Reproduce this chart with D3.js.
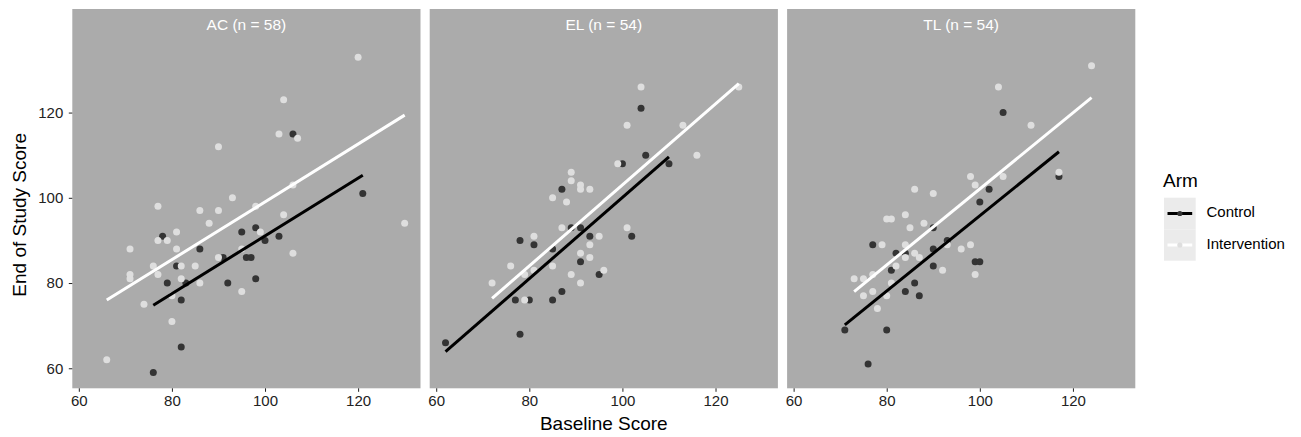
<!DOCTYPE html>
<html lang="en">
<head>
<meta charset="utf-8" />
<title>Baseline vs End of Study Score</title>
<script src="https://cdnjs.cloudflare.com/ajax/libs/d3/7.8.5/d3.min.js"></script>
<style>
  body { margin: 0; background: #fff; }
  svg text { font-family: "Liberation Sans", Arial, Helvetica, sans-serif; }
</style>
</head>
<body>
<svg id="chart" width="1301" height="437"></svg>
<script>
// facet labels and legend entries
const panels = ["AC (n = 58)", "EL (n = 54)", "TL (n = 54)"];
const arms = ["Control", "Intervention"];
const xTicks = [60, 80, 100, 120];
const yTicks = [60, 80, 100, 120];

// points: [baseline, end of study]
const acControl = [[106,115],[121,101],[78,91],[86,88],[81,84],[79,80],[83,80],[82,76],[82,65],[76,59],
  [92,80],[91,86],[95,92],[96,86],[97,86],[98,93],[98,81],[100,90],[103,91]];
const acIntervention = [[93,100],[77,98],[86,97],[90,97],[98,98],[104,96],[88,94],[77,90],[79,90],[81,92],
  [71,88],[81,88],[90,86],[76,84],[82,84],[85,84],[71,82],[71,81],[77,82],[82,81],[86,80],[74,75],[80,71],
  [95,78],[99,92],[106,87],[130,94],[66,62],[80,77],[95,88],[106,103],[120,133],[104,123],[103,115],
  [107,114],[90,112]];

const elControl = [[104,121],[105,110],[100,108],[110,108],[87,102],[89,93],[91,93],[102,91],[93,91],
  [78,90],[81,89],[85,88],[91,85],[95,82],[87,78],[77,76],[80,76],[85,76],[78,68],[62,66]];
const elIntervention = [[104,126],[101,117],[113,117],[125,126],[116,110],[99,108],[89,106],[89,104],
  [91,103],[91,102],[93,102],[85,100],[88,99],[87,93],[101,93],[81,91],[95,91],[93,89],[91,87],[93,86],
  [76,84],[85,84],[96,83],[81,83],[79,82],[89,82],[91,80],[72,80],[79,76]];

const tlControl = [[105,120],[117,105],[102,102],[100,99],[90,93],[77,89],[93,90],[90,88],[82,87],[84,87],
  [99,85],[100,85],[90,84],[81,83],[86,80],[84,78],[87,77],[71,69],[80,69],[76,61]];
const tlIntervention = [[124,131],[104,126],[111,117],[117,106],[98,105],[105,105],[99,103],[86,102],
  [90,101],[84,96],[80,95],[81,95],[85,93],[88,94],[79,89],[84,89],[93,89],[96,88],[98,89],[86,87],
  [84,86],[87,86],[82,84],[92,83],[99,82],[73,81],[75,81],[77,82],[81,80],[77,78],[75,77],[80,77],[78,74]];

// fitted lines: [x0, y0, x1, y1]
const acFits = [[76,74.8,121,105.3],[66,76.0,130,119.4]];
const elFits = [[62,63.9,110,109.6],[72,76.4,125,126.8]];
const tlFits = [[71,70.2,117,110.8],[73,78.0,124,123.5]];

const pointSets = [[acControl, acIntervention],[elControl, elIntervention],[tlControl, tlIntervention]];
const fitSets = [acFits, elFits, tlFits];

const armFill = ["#343434", "#dedede"];
const armLine = ["#000000", "#ffffff"];
const bg = "#ababab";

const svg = d3.select("#chart");
const panelW = 348.2;
const gap = 9.2;
const left0 = 72.3;
const stripTop = 9;
const panelTop = 41.4;
const panelBottom = 388.3;

const x = d3.scaleLinear().domain([58.6, 133.4]).range([0, panelW]);
const y = d3.scaleLinear().domain([55.3, 136.7]).range([panelBottom, panelTop]);

panels.forEach((label, i) => {
  const g = svg.append("g").attr("transform", `translate(${left0 + i * (panelW + gap)},0)`);

  // strip + panel share the same grey
  g.append("rect")
    .attr("x", 0).attr("y", stripTop)
    .attr("width", panelW).attr("height", panelBottom - stripTop)
    .attr("fill", bg);

  g.append("text")
    .attr("x", panelW / 2).attr("y", (stripTop + panelTop) / 2 + 1)
    .attr("text-anchor", "middle").attr("dominant-baseline", "middle")
    .attr("fill", "#ffffff").style("font-size", "15.5px")
    .text(label);

  // points
  pointSets[i].forEach((pts, a) => {
    g.append("g").selectAll("circle")
      .data(pts).join("circle")
      .attr("cx", d => x(d[0]))
      .attr("cy", d => y(d[1]))
      .attr("r", 3.5)
      .attr("fill", armFill[a]);
  });

  // fit lines
  fitSets[i].forEach((f, a) => {
    g.append("line")
      .attr("x1", x(f[0])).attr("y1", y(f[1]))
      .attr("x2", x(f[2])).attr("y2", y(f[3]))
      .attr("stroke", armLine[a]).attr("stroke-width", 3);
  });

  // x axis
  const xa = g.append("g")
    .attr("transform", `translate(0,${panelBottom})`)
    .call(d3.axisBottom(x).tickValues(xTicks).tickSize(3.5).tickPadding(4));
  xa.select(".domain").remove();
  xa.selectAll(".tick line").attr("stroke", "#222");
  xa.selectAll(".tick text").attr("fill", "#222").style("font-size", "15px");

  if (i === 0) {
    const ya = g.append("g")
      .call(d3.axisLeft(y).tickValues(yTicks).tickSize(3.5).tickPadding(5.5));
    ya.select(".domain").remove();
    ya.selectAll(".tick line").attr("stroke", "#222");
    ya.selectAll(".tick text").attr("fill", "#222").style("font-size", "15px");
  }
});

// axis titles
svg.append("text")
  .attr("transform", `translate(20.5,${(panelTop + panelBottom) / 2}) rotate(-90)`)
  .attr("text-anchor", "middle").attr("dominant-baseline", "middle")
  .style("font-size", "19px").attr("fill", "#000")
  .text("End of Study Score");

svg.append("text")
  .attr("x", left0 + (3 * panelW + 2 * gap) / 2).attr("y", 425)
  .attr("text-anchor", "middle").attr("dominant-baseline", "middle")
  .style("font-size", "19px").attr("fill", "#000")
  .text("Baseline Score");

// legend
const lg = svg.append("g").attr("transform", "translate(1164,0)");
lg.append("text")
  .attr("x", -1).attr("y", 187)
  .style("font-size", "19px").attr("fill", "#000")
  .text("Arm");

arms.forEach((name, a) => {
  const ky = 197.7 + a * 31.5;
  lg.append("rect")
    .attr("x", 0).attr("y", ky).attr("width", 31.7).attr("height", 31.5)
    .attr("fill", "#ebebeb");
  lg.append("line")
    .attr("x1", 3.5).attr("x2", 28.2)
    .attr("y1", ky + 15.8).attr("y2", ky + 15.8)
    .attr("stroke", armLine[a]).attr("stroke-width", 3);
  lg.append("circle")
    .attr("cx", 15.85).attr("cy", ky + 15.8).attr("r", 2.6)
    .attr("fill", armFill[a]);
  lg.append("text")
    .attr("x", 42.5).attr("y", ky + 15.8)
    .attr("dominant-baseline", "middle")
    .style("font-size", "15px").attr("fill", "#000")
    .text(name);
});
</script>
</body>
</html>
